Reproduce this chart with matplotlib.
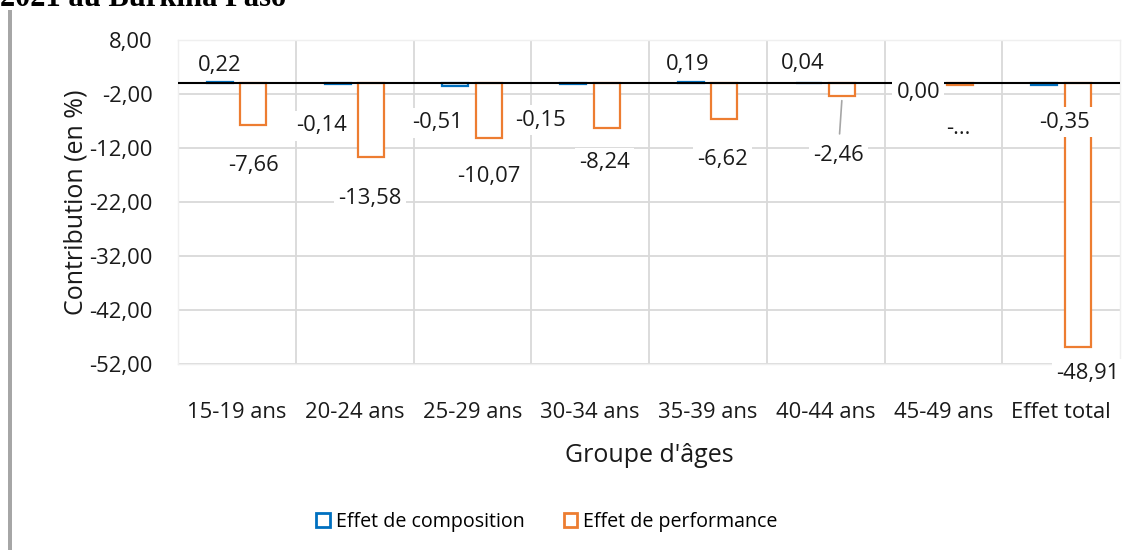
import numpy as np
import matplotlib.pyplot as plt
from matplotlib.patches import Patch, Rectangle

# data
categories = ["15-19 ans", "20-24 ans", "25-29 ans", "30-34 ans",
              "35-39 ans", "40-44 ans", "45-49 ans", "Effet total"]
composition = [0.22, -0.14, -0.51, -0.15, 0.19, 0.04, 0.00, -0.35]
performance = [-7.66, -13.58, -10.07, -8.24, -6.62, -2.46, -0.28, -48.91]
y_ticks = [8, -2, -12, -22, -32, -42, -52]

# label offsets (pixels) from the bar ends, mimicking Excel placement
comp_offsets = [(0, 17), (-16, -42), (-18, -37), (-33, -36),
                (-3, 18), (-6, 19), (-8, -9), (20, -37)]
perf_offsets = [(0, -41), (-1, -42), (0, -39), (-2, -35),
                (-2, -41), (-4, -59), (-2, -44), (10, -26)]

BLUE = "#0070c0"
ORANGE = "#ed7d31"
GRID = "#d9d9d9"
FONT = "Open Sans"
TXT = "#1a1a1a"

plt.rcParams["font.family"] = [FONT, "DejaVu Sans"]

fig = plt.figure(figsize=(11.38, 5.5), dpi=100)
ax = fig.add_axes([178 / 1138, 1 - 364 / 550, 942 / 1138, 324 / 550])

x = np.arange(len(categories))
w = 0.22
ax.bar(x - 0.145, composition, width=w, facecolor="white",
       edgecolor=BLUE, linewidth=1.6, zorder=3)
ax.bar(x + 0.14, performance, width=w, facecolor="white",
       edgecolor=ORANGE, linewidth=1.6, zorder=3)

ax.set_xlim(-0.5, len(categories) - 0.5)
ax.set_ylim(-52, 8)
ax.set_yticks(y_ticks)
ax.set_yticklabels([f"{v:.2f}".replace(".", ",") for v in y_ticks])
ax.set_xticks(x)
ax.set_xticklabels(categories)
ax.set_xticks(np.arange(len(categories) - 1) + 0.5, minor=True)

ax.grid(axis="y", which="major", color=GRID, linewidth=1.3, zorder=0)
ax.grid(axis="x", which="minor", color=GRID, linewidth=1.3, zorder=0)
ax.tick_params(axis="both", which="both", length=0, labelsize=15.8,
               colors=TXT)
ax.tick_params(axis="x", pad=27)
ax.tick_params(axis="y", pad=18)
for s in ax.spines.values():
    s.set_color("#efefef")
    s.set_linewidth(1)
ax.axhline(0, color="black", linewidth=1.5, zorder=4)

ax.set_xlabel("Groupe d'âges", fontsize=18, labelpad=15, color=TXT)
ax.set_ylabel("Contribution (en %)", fontsize=18, labelpad=1, color=TXT)

box = dict(facecolor="white", edgecolor="none", pad=3)


def fmt(v):
    return f"{v:.2f}".replace(".", ",")


for i, (v, off) in enumerate(zip(composition, comp_offsets)):
    ax.annotate(fmt(v), (x[i] - 0.145, v), xytext=off,
                textcoords="offset pixels", ha="center", va="center",
                fontsize=15.8, color=TXT, bbox=box, zorder=5)

for i, (v, off) in enumerate(zip(performance, perf_offsets)):
    txt = "-..." if categories[i] == "45-49 ans" else fmt(v)
    arrow = None
    if categories[i] == "40-44 ans":
        arrow = dict(arrowstyle="-", color="#a6a6a6", lw=1.2,
                     shrinkA=5, shrinkB=3)
    ax.annotate(txt, (x[i] + 0.14, v), xytext=off,
                textcoords="offset pixels", ha="center", va="center",
                fontsize=15.8, color=TXT, bbox=box, zorder=5,
                arrowprops=arrow)

handles = [Patch(facecolor="white", edgecolor=BLUE, linewidth=2),
           Patch(facecolor="white", edgecolor=ORANGE, linewidth=2)]
fig.legend(handles, ["Effet de composition", "Effet de performance"],
           loc="center", bbox_to_anchor=(547 / 1138, 1 - 522 / 550),
           ncol=2, frameon=False, fontsize=14.1, handlelength=0.7,
           handleheight=0.7, handletextpad=0.3, columnspacing=2.0)

# left gray rule and clipped heading from the page
fig.patches.append(Rectangle((8 / 1138, 0), 4 / 1138, 1 - 10 / 550,
                             transform=fig.transFigure,
                             facecolor="#a6a6a6", edgecolor="none"))
fig.text(0.0, 1 - 6 / 550, "2021 au Burkina Faso", family="Liberation Serif",
         fontsize=22, fontweight="bold", va="baseline", ha="left")

fig.savefig("out.png", dpi=100)
